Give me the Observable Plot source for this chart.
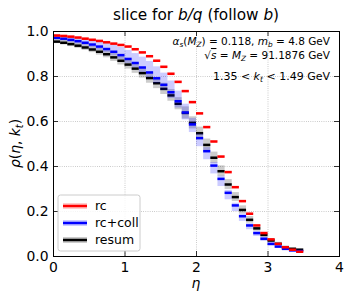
<!DOCTYPE html>
<html><head><meta charset="utf-8">
<script src="https://cdn.jsdelivr.net/npm/d3@7"></script>
<script src="https://cdn.jsdelivr.net/npm/@observablehq/plot@0.6"></script>
<style>
html,body{margin:0;padding:0;background:#fff;}
#chart{position:relative;width:352px;height:302px;}
svg{font-family:"DejaVu Sans";}
</style>
</head><body><div id="chart"></div>
<script>
// eta bins
const etaLo = [0.0,0.1,0.2,0.3,0.4,0.5,0.6,0.7,0.8,0.9,1.0,1.1,1.2,1.3,1.4,1.5,1.6,1.7,1.8,1.9,2.0,2.1,2.2,2.3,2.4,2.5,2.6,2.7,2.8,2.9,3.0,3.1,3.2,3.3,3.4];
const etaHi = [0.1,0.2,0.3,0.4,0.5,0.6,0.7,0.8,0.9,1.0,1.1,1.2,1.3,1.4,1.5,1.6,1.7,1.8,1.9,2.0,2.1,2.2,2.3,2.4,2.5,2.6,2.7,2.8,2.9,3.0,3.1,3.2,3.3,3.4,3.5];
// series values
const rc     = [0.982,0.980,0.977,0.973,0.968,0.963,0.958,0.952,0.946,0.940,0.933,0.921,0.907,0.890,0.870,0.843,0.812,0.776,0.735,0.686,0.636,0.575,0.511,0.444,0.375,0.308,0.246,0.190,0.138,0.104,0.076,0.056,0.041,0.030,0.021];
const rcColl = [0.972,0.968,0.963,0.957,0.950,0.942,0.933,0.922,0.910,0.895,0.878,0.860,0.840,0.818,0.792,0.763,0.730,0.690,0.640,0.587,0.526,0.468,0.404,0.345,0.283,0.227,0.179,0.138,0.104,0.079,0.056,0.044,0.034,0.027,0.024];
const resum  = [0.955,0.950,0.944,0.937,0.929,0.920,0.910,0.899,0.885,0.870,0.853,0.835,0.815,0.793,0.770,0.745,0.716,0.679,0.638,0.594,0.548,0.496,0.439,0.379,0.320,0.264,0.207,0.163,0.125,0.096,0.071,0.056,0.041,0.034,0.030];
// uncertainty bands
const rcErr     = [0.004,0.004,0.004,0.004,0.004,0.004,0.004,0.004,0.004,0.004,0.004,0.004,0.004,0.004,0.004,0.004,0.004,0.004,0.004,0.004,0.004,0.004,0.004,0.004,0.004,0.004,0.004,0.004,0.004,0.004,0.003,0.003,0.003,0.003,0.003];
const rcCollDn  = [0.011,0.011,0.012,0.013,0.014,0.015,0.016,0.017,0.018,0.019,0.020,0.021,0.022,0.023,0.024,0.026,0.028,0.030,0.033,0.036,0.038,0.038,0.037,0.034,0.031,0.027,0.023,0.019,0.015,0.012,0.009,0.007,0.005,0.004,0.004];
const rcCollUp  = [0.012,0.013,0.014,0.016,0.018,0.021,0.024,0.027,0.030,0.034,0.038,0.042,0.046,0.049,0.051,0.052,0.050,0.045,0.037,0.027,0.019,0.016,0.014,0.012,0.011,0.010,0.009,0.008,0.007,0.006,0.005,0.004,0.004,0.003,0.003];
const resumErr  = [0.009,0.010,0.011,0.012,0.013,0.014,0.015,0.016,0.018,0.019,0.020,0.021,0.022,0.023,0.024,0.025,0.026,0.027,0.027,0.027,0.027,0.026,0.025,0.024,0.022,0.020,0.018,0.015,0.013,0.011,0.009,0.007,0.006,0.005,0.005];
const seriesNames = ["rc","rc+coll","resum"];
const seriesColors = ["#ff0000","#0000ff","#000000"];
const xTicks = [0,1,2,3,4];
const yTicks = [0.0,0.2,0.4,0.6,0.8,1.0];

const table = (vals, dn, up) => vals.map((v,i)=>({lo:etaLo[i], hi:etaHi[i], v, b1:v-dn[i], b2:v+up[i]}));
const dRc = table(rc, rcErr, rcErr);
const dColl = table(rcColl, rcCollDn, rcCollUp);
const dRes = table(resum, resumErr, resumErr);

const W=352,H=302,mL=53,mR=13,mT=31,mB=46;
const fH=H-mT-mB, fW=W-mL-mR, tl=5;
const grid = {stroke:"#b0b0b0", strokeOpacity:1, strokeWidth:0.8, strokeDasharray:"0.8,1.4"};
const series = [[dRes,2],[dColl,1],[dRc,0]];
const dataMarks = series.flatMap(([d,k])=>[
  Plot.rect(d,{x1:"lo",x2:"hi",y1:"b1",y2:"b2",fill:seriesColors[k],fillOpacity:0.2}),
  Plot.ruleY(d,{y:"v",x1:"lo",x2:"hi",stroke:seriesColors[k],strokeWidth:2.5})
]);
const plot = Plot.plot({
  width:W,height:H,marginLeft:mL,marginRight:mR,marginTop:mT,marginBottom:mB,
  x:{domain:[0,4]}, y:{domain:[0,1]},
  style:{fontFamily:"DejaVu Sans",fontSize:"13.9px",background:"white",color:"black"},
  marks:[
    Plot.gridX(xTicks,grid),
    Plot.gridY(yTicks,grid),
    ...dataMarks,
    Plot.tickX(xTicks,{x:d=>d,insetTop:fH-tl,stroke:"black",strokeWidth:0.8}),
    Plot.tickX(xTicks,{x:d=>d,insetBottom:fH-tl,stroke:"black",strokeWidth:0.8}),
    Plot.tickY(yTicks,{y:d=>d,insetRight:fW-tl,stroke:"black",strokeWidth:0.8}),
    Plot.tickY(yTicks,{y:d=>d,insetLeft:fW-tl,stroke:"black",strokeWidth:0.8}),
    Plot.axisX({ticks:xTicks,tickSize:0,tickPadding:6,tickFormat:d3.format("d"),label:null,fontSize:13.9}),
    Plot.axisY({ticks:yTicks,tickSize:0,tickPadding:5,tickFormat:d3.format(".1f"),label:null,fontSize:13.9}),
    Plot.frame({stroke:"black",strokeWidth:1})
  ]
});
document.getElementById("chart").appendChild(plot);

const svg = d3.select(plot);
const sx = plot.scale("x"), sy = plot.scale("y");
function rich(parent, segs, size){
  let shifted = 0;
  segs.forEach(s=>{
    const ts = parent.append("tspan").text(s.t);
    if (s.i) ts.attr("font-style","italic");
    if (s.o) ts.style("text-decoration","overline");
    const want = s.sub ? size*0.2 : 0;
    if (want !== shifted) { ts.attr("dy", want - shifted); shifted = want; }
    if (s.sub) ts.attr("font-size", size*0.7);
  });
}
function txt(x,y,size,anchor,segs,rot){
  const t = svg.append("text").attr("x",x).attr("y",y).attr("font-size",size)
    .attr("text-anchor",anchor).attr("fill","black").attr("font-family","DejaVu Sans");
  if (rot) t.attr("transform",`rotate(${rot},${x},${y})`);
  rich(t,segs,size);
  return t;
}
const cx = sx.apply(2);
txt(cx,20,15.3,"middle",[{t:"slice for "},{t:"b/q",i:1},{t:" (follow "},{t:"b",i:1},{t:")"}]);
txt(330,45,10.5,"end",[{t:"α",i:1},{t:"s",i:1,sub:1},{t:"("},{t:"M",i:1},{t:"Z",i:1,sub:1},{t:") = 0.118, "},{t:"m",i:1},{t:"b",i:1,sub:1},{t:" = 4.8 GeV"}]);
txt(330,59,10.5,"end",[{t:"√"},{t:"s",i:1,o:1},{t:" = "},{t:"M",i:1},{t:"Z",i:1,sub:1},{t:" = 91.1876 GeV"}]);
txt(330,80,11,"end",[{t:"1.35 < "},{t:"k",i:1},{t:"t",i:1,sub:1},{t:" < 1.49 GeV"}]);
txt(cx,288,13.9,"middle",[{t:"η",i:1}]);
const cy = sy.apply(0.5);
txt(20,cy,13.9,"middle",[{t:"ρ",i:1},{t:"("},{t:"η",i:1},{t:", "},{t:"k",i:1},{t:"t",i:1,sub:1},{t:")"}],-90);

// legend
const lg = svg.append("g");
lg.append("rect").attr("x",58).attr("y",195).attr("width",82).attr("height",56).attr("rx",2.5)
  .attr("fill","white").attr("fill-opacity",0.8).attr("stroke","#cccccc").attr("stroke-width",1);
seriesNames.forEach((n,k)=>{
  const yy = 206 + k*17;
  lg.append("rect").attr("x",63).attr("y",yy-3).attr("width",24).attr("height",6).attr("fill",seriesColors[k]).attr("fill-opacity",0.2);
  lg.append("line").attr("x1",63).attr("x2",87).attr("y1",yy).attr("y2",yy).attr("stroke",seriesColors[k]).attr("stroke-width",2.5);
  lg.append("text").attr("x",95).attr("y",yy+4.4).attr("font-size",12.5).attr("text-anchor","start").attr("fill","black").text(n);
});
</script>
</body></html>
